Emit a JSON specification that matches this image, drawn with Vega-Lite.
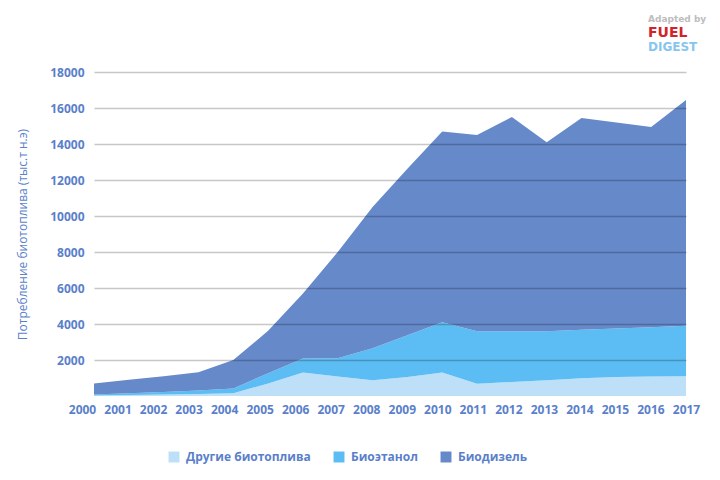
{
  "$schema": "https://vega.github.io/schema/vega-lite/v6.json",
  "width": 592,
  "height": 324,
  "autosize": {"type": "none"},
  "padding": {"left": 94, "top": 72, "right": 34, "bottom": 84},
  "background": "white",
  "config": {"view": {"stroke": null}, "font": "Open Sans"},
  "layer": [
    {
      "data": {
        "values": [
          {"year": "2000", "type": "Другие биотоплива", "k": 1, "value": 30},
          {"year": "2001", "type": "Другие биотоплива", "k": 1, "value": 50},
          {"year": "2002", "type": "Другие биотоплива", "k": 1, "value": 80},
          {"year": "2003", "type": "Другие биотоплива", "k": 1, "value": 110},
          {"year": "2004", "type": "Другие биотоплива", "k": 1, "value": 150},
          {"year": "2005", "type": "Другие биотоплива", "k": 1, "value": 700},
          {"year": "2006", "type": "Другие биотоплива", "k": 1, "value": 1300},
          {"year": "2007", "type": "Другие биотоплива", "k": 1, "value": 1080},
          {"year": "2008", "type": "Другие биотоплива", "k": 1, "value": 870},
          {"year": "2009", "type": "Другие биотоплива", "k": 1, "value": 1050},
          {"year": "2010", "type": "Другие биотоплива", "k": 1, "value": 1300},
          {"year": "2011", "type": "Другие биотоплива", "k": 1, "value": 680},
          {"year": "2012", "type": "Другие биотоплива", "k": 1, "value": 780},
          {"year": "2013", "type": "Другие биотоплива", "k": 1, "value": 880},
          {"year": "2014", "type": "Другие биотоплива", "k": 1, "value": 980},
          {"year": "2015", "type": "Другие биотоплива", "k": 1, "value": 1050},
          {"year": "2016", "type": "Другие биотоплива", "k": 1, "value": 1080},
          {"year": "2017", "type": "Другие биотоплива", "k": 1, "value": 1100},
          {"year": "2000", "type": "Биоэтанол", "k": 2, "value": 50},
          {"year": "2001", "type": "Биоэтанол", "k": 2, "value": 100},
          {"year": "2002", "type": "Биоэтанол", "k": 2, "value": 140},
          {"year": "2003", "type": "Биоэтанол", "k": 2, "value": 190},
          {"year": "2004", "type": "Биоэтанол", "k": 2, "value": 270},
          {"year": "2005", "type": "Биоэтанол", "k": 2, "value": 570},
          {"year": "2006", "type": "Биоэтанол", "k": 2, "value": 790},
          {"year": "2007", "type": "Биоэтанол", "k": 2, "value": 1020},
          {"year": "2008", "type": "Биоэтанол", "k": 2, "value": 1780},
          {"year": "2009", "type": "Биоэтанол", "k": 2, "value": 2320},
          {"year": "2010", "type": "Биоэтанол", "k": 2, "value": 2800},
          {"year": "2011", "type": "Биоэтанол", "k": 2, "value": 2920},
          {"year": "2012", "type": "Биоэтанол", "k": 2, "value": 2820},
          {"year": "2013", "type": "Биоэтанол", "k": 2, "value": 2720},
          {"year": "2014", "type": "Биоэтанол", "k": 2, "value": 2700},
          {"year": "2015", "type": "Биоэтанол", "k": 2, "value": 2700},
          {"year": "2016", "type": "Биоэтанол", "k": 2, "value": 2740},
          {"year": "2017", "type": "Биоэтанол", "k": 2, "value": 2800},
          {"year": "2000", "type": "Биодизель", "k": 3, "value": 620},
          {"year": "2001", "type": "Биодизель", "k": 3, "value": 750},
          {"year": "2002", "type": "Биодизель", "k": 3, "value": 880},
          {"year": "2003", "type": "Биодизель", "k": 3, "value": 1020},
          {"year": "2004", "type": "Биодизель", "k": 3, "value": 1580},
          {"year": "2005", "type": "Биодизель", "k": 3, "value": 2350},
          {"year": "2006", "type": "Биодизель", "k": 3, "value": 3610},
          {"year": "2007", "type": "Биодизель", "k": 3, "value": 5900},
          {"year": "2008", "type": "Биодизель", "k": 3, "value": 7850},
          {"year": "2009", "type": "Биодизель", "k": 3, "value": 9250},
          {"year": "2010", "type": "Биодизель", "k": 3, "value": 10600},
          {"year": "2011", "type": "Биодизель", "k": 3, "value": 10900},
          {"year": "2012", "type": "Биодизель", "k": 3, "value": 11900},
          {"year": "2013", "type": "Биодизель", "k": 3, "value": 10500},
          {"year": "2014", "type": "Биодизель", "k": 3, "value": 11770},
          {"year": "2015", "type": "Биодизель", "k": 3, "value": 11450},
          {"year": "2016", "type": "Биодизель", "k": 3, "value": 11130},
          {"year": "2017", "type": "Биодизель", "k": 3, "value": 12550}
        ]
      },
      "mark": {"type": "area", "interpolate": "linear"},
      "encoding": {
        "x": {
          "field": "year",
          "type": "ordinal",
          "scale": {"type": "point", "padding": 0},
          "axis": {
            "title": null,
            "labelAngle": 0,
            "domain": false,
            "ticks": false,
            "labelPadding": 8,
            "labelOffset": {"expr": "-12 + 12 * (toNumber(datum.value) - 2000) / 17"},
            "labelFont": "Open Sans",
            "labelFontSize": 12,
            "labelFontWeight": "bold",
            "labelColor": "#5a7fcb"
          }
        },
        "y": {
          "field": "value",
          "type": "quantitative",
          "stack": "zero",
          "scale": {"domain": [0, 18000], "nice": false},
          "axis": {
            "title": "Потребление биотоплива (тыс.т н.э)",
            "titleFont": "Open Sans",
            "titleFontSize": 12,
            "titleFontWeight": "normal",
            "titleColor": "#5a7fcb",
            "titlePadding": 20,
            "values": [2000, 4000, 6000, 8000, 10000, 12000, 14000, 16000, 18000],
            "format": "d",
            "domain": false,
            "ticks": false,
            "labelPadding": 10,
            "labelFont": "Open Sans",
            "labelFontSize": 12,
            "labelFontWeight": "bold",
            "labelColor": "#5a7fcb",
            "grid": true,
            "gridColor": "#000000",
            "gridOpacity": 0.22,
            "gridWidth": 1.5,
            "zindex": 1
          }
        },
        "color": {
          "field": "type",
          "type": "nominal",
          "sort": ["Другие биотоплива", "Биоэтанол", "Биодизель"],
          "scale": {
            "domain": ["Другие биотоплива", "Биоэтанол", "Биодизель"],
            "range": ["#bde0f8", "#5bbdf3", "#6689c9"]
          },
          "legend": {
            "title": null,
            "orient": "none",
            "direction": "horizontal",
            "legendX": 74,
            "legendY": 379,
            "symbolType": "square",
            "symbolSize": 120,
            "symbolStrokeWidth": 0,
            "labelFont": "Open Sans",
            "labelFontSize": 12,
            "labelFontWeight": "bold",
            "labelColor": "#5a7fcb",
            "labelOffset": 6,
            "columnPadding": 22
          }
        },
        "order": {"field": "k", "type": "quantitative", "sort": "ascending"}
      }
    },
    {
      "data": {"values": [{"label": "Adapted by"}]},
      "mark": {
        "type": "text",
        "align": "left",
        "baseline": "middle",
        "dx": -38,
        "font": "DejaVu Sans",
        "fontSize": 9,
        "fontWeight": "bold",
        "color": "#bdbdbd"
      },
      "encoding": {
        "x": {"datum": "2017"},
        "y": {"datum": 20950},
        "text": {"field": "label"}
      }
    },
    {
      "data": {"values": [{"label": "FUEL"}]},
      "mark": {
        "type": "text",
        "align": "left",
        "baseline": "middle",
        "dx": -38,
        "font": "DejaVu Sans",
        "fontSize": 14,
        "fontWeight": "bold",
        "color": "#d2232a"
      },
      "encoding": {
        "x": {"datum": "2017"},
        "y": {"datum": 20150},
        "text": {"field": "label"}
      }
    },
    {
      "data": {"values": [{"label": "DIGEST"}]},
      "mark": {
        "type": "text",
        "align": "left",
        "baseline": "middle",
        "dx": -38,
        "font": "DejaVu Sans",
        "fontSize": 12,
        "fontWeight": "bold",
        "color": "#86c6ee"
      },
      "encoding": {
        "x": {"datum": "2017"},
        "y": {"datum": 19370},
        "text": {"field": "label"}
      }
    }
  ]
}
